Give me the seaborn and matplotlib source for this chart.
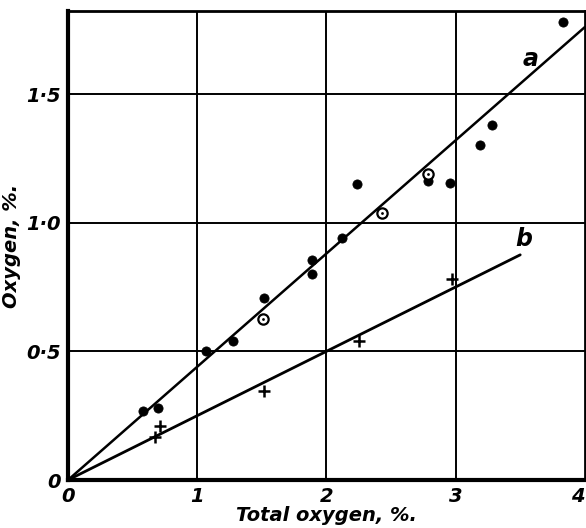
import matplotlib
matplotlib.use('Agg')

import pandas as pd
import matplotlib.pyplot as plt
import seaborn as sns

# Filled circles (series a)
a_x = [0.58, 0.70, 1.07, 1.28, 1.52, 1.89, 1.89, 2.12, 2.24, 2.79, 2.96, 3.19, 3.28, 3.83]
a_y = [0.268, 0.28, 0.50, 0.54, 0.707, 0.854, 0.80, 0.94, 1.15, 1.16, 1.155, 1.30, 1.38, 1.78]

# Open circles with centre dot (series a)
ring_x = [1.51, 2.43, 2.79]
ring_y = [0.625, 1.037, 1.19]

# Crosses (series b)
b_x = [0.67, 0.71, 1.52, 2.25, 2.97]
b_y = [0.167, 0.21, 0.345, 0.54, 0.78]

# Fitted lines through the origin
line_a_x = [0, 4.0]
line_a_y = [0, 1.76]
line_b_x = [0, 3.5]
line_b_y = [0, 0.875]

x_ticks = [0, 1, 2, 3, 4]
x_labels = ['0', '1', '2', '3', '4']
y_ticks = [0, 0.5, 1.0, 1.5]
y_labels = ['0', '0·5', '1·0', '1·5']

sns.set_style('white')
plt.rcParams['font.family'] = ['DejaVu Sans']
plt.rcParams['text.color'] = 'black'
plt.rcParams['axes.labelcolor'] = 'black'
plt.rcParams['xtick.color'] = 'black'
plt.rcParams['ytick.color'] = 'black'

fig = plt.figure(figsize=(5.86, 5.28), dpi=100)
ax = fig.add_axes([0.116, 0.0909, 0.882, 0.888])

# grid
for xv in x_ticks[1:-1]:
    ax.axvline(xv, color='black', lw=1.4, zorder=0)
for yv in y_ticks[1:]:
    ax.axhline(yv, color='black', lw=1.4, zorder=0)

sns.lineplot(x=line_a_x, y=line_a_y, ax=ax, color='black', lw=1.8)
sns.lineplot(x=line_b_x, y=line_b_y, ax=ax, color='black', lw=2.0)

sns.scatterplot(x=a_x, y=a_y, ax=ax, color='black', s=44, edgecolor='black', zorder=3)
sns.scatterplot(x=ring_x, y=ring_y, ax=ax, facecolor='white', edgecolor='black',
                s=55, linewidth=1.6, zorder=3)
sns.scatterplot(x=ring_x, y=ring_y, ax=ax, color='black', s=4, linewidth=0, zorder=4)
sns.scatterplot(x=b_x, y=b_y, ax=ax, marker='+', color='black', s=80, linewidth=1.8, zorder=3)

ax.text(3.52, 1.61, 'a', fontsize=17, style='italic', fontweight='bold', color='black')
ax.text(3.46, 0.91, 'b', fontsize=17, style='italic', fontweight='bold', color='black')

ax.set_xlim(0, 4)
ax.set_ylim(0, 1.822)
ax.set_xticks(x_ticks)
ax.set_xticklabels(x_labels)
ax.set_yticks(y_ticks)
ax.set_yticklabels(y_labels)
ax.tick_params(length=0, labelsize=14, pad=5)
for lab in ax.get_xticklabels() + ax.get_yticklabels():
    lab.set_fontstyle('italic')
    lab.set_fontweight('bold')
ax.get_xticklabels()[-1].set_horizontalalignment('right')

ax.set_xlabel('Total oxygen, %.', fontsize=14, style='italic', fontweight='bold', labelpad=0)
ax.set_ylabel('Oxygen, %.', fontsize=14, style='italic', fontweight='bold', labelpad=4)

for side in ['left', 'bottom']:
    ax.spines[side].set_linewidth(3)
for side in ['top', 'right']:
    ax.spines[side].set_linewidth(2)
for sp in ax.spines.values():
    sp.set_color('black')

fig.savefig('out.png', dpi=100)
